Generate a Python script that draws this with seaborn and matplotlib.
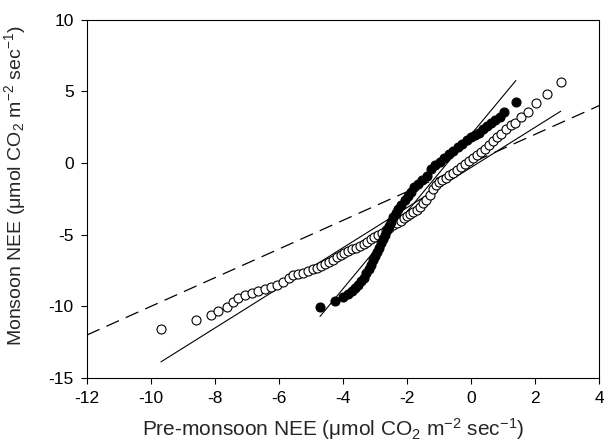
import numpy as np
import pandas as pd
import matplotlib
matplotlib.use("Agg")
import matplotlib.pyplot as plt
import seaborn as sns

# ---- data ----
open_x = [-9.69, -8.60, -8.12, -7.90, -7.62, -7.43, -7.27, -7.06, -6.85, -6.65,
          -6.44, -6.26, -6.07, -5.87, -5.70, -5.55, -5.40, -5.25, -5.10, -4.95,
          -4.82, -4.70, -4.58, -4.45, -4.32, -4.20, -4.08, -3.96, -3.85, -3.72,
          -3.60, -3.48, -3.36, -3.25, -3.14, -3.02, -2.90, -2.78, -2.66, -2.55,
          -2.43, -2.32, -2.20, -2.10, -2.00, -1.90, -1.80, -1.70, -1.60, -1.50,
          -1.40, -1.30, -1.20, -1.10, -1.00, -0.90, -0.80, -0.68, -0.56, -0.44,
          -0.32, -0.20, -0.08, 0.05, 0.18, 0.30, 0.42, 0.55, 0.68, 0.80,
          0.92, 1.10, 1.25, 1.38, 1.55, 1.78, 2.04, 2.37, 2.80]
open_y = [-11.58, -10.98, -10.62, -10.32, -10.03, -9.70, -9.45, -9.22, -9.06, -8.92,
          -8.76, -8.64, -8.50, -8.30, -8.02, -7.85, -7.78, -7.65, -7.52, -7.40,
          -7.30, -7.18, -7.05, -6.92, -6.75, -6.58, -6.42, -6.28, -6.15, -6.02,
          -5.90, -5.78, -5.62, -5.48, -5.33, -5.18, -5.02, -4.86, -4.70, -4.52,
          -4.36, -4.20, -4.02, -3.86, -3.72, -3.56, -3.40, -3.25, -3.05, -2.82,
          -2.55, -2.25, -1.85, -1.52, -1.35, -1.20, -1.05, -0.86, -0.68, -0.48,
          -0.28, -0.08, 0.12, 0.32, 0.55, 0.78, 0.98, 1.25, 1.52, 1.78,
          2.05, 2.40, 2.65, 2.78, 3.22, 3.57, 4.16, 4.78, 5.66]

filled_x = [-4.72, -4.25, -3.99, -3.85, -3.72, -3.62, -3.52, -3.43, -3.35, -3.27,
            -3.20, -3.13, -3.06, -2.99, -2.93, -2.87, -2.81, -2.75, -2.69, -2.63,
            -2.57, -2.50, -2.43, -2.35, -2.27, -2.18, -2.08, -1.98, -1.88, -1.78,
            -1.66, -1.52, -1.38, -1.25, -1.12, -0.98, -0.84, -0.70, -0.56, -0.42,
            -0.28, -0.14, 0.00, 0.12, 0.25, 0.38, 0.50, 0.62, 0.75, 0.90,
            1.03, 1.40]
filled_y = [-10.07, -9.63, -9.35, -9.15, -8.95, -8.72, -8.50, -8.25, -8.00, -7.70,
            -7.40, -7.10, -6.80, -6.50, -6.20, -5.90, -5.60, -5.30, -5.00, -4.70,
            -4.40, -4.10, -3.80, -3.50, -3.20, -2.90, -2.60, -2.30, -2.00, -1.70,
            -1.45, -1.20, -0.90, -0.40, -0.15, 0.10, 0.35, 0.60, 0.82, 1.08,
            1.32, 1.58, 1.78, 1.95, 2.12, 2.35, 2.58, 2.80, 3.00, 3.22,
            3.57, 4.27]

# fitted lines (slope, intercept)
open_fit = (1.40, -0.31)
filled_fit = (2.69, 1.99)

x_ticks = [-12, -10, -8, -6, -4, -2, 0, 2, 4]
y_ticks = [-15, -10, -5, 0, 5, 10]

# ---- style ----
sns.set_theme(style="ticks")
plt.rcParams["font.family"] = ["Liberation Sans", "DejaVu Sans"]
plt.rcParams["mathtext.fontset"] = "custom"
plt.rcParams["mathtext.rm"] = "Liberation Sans"
plt.rcParams["mathtext.it"] = "Liberation Sans:italic"
plt.rcParams["mathtext.default"] = "regular"

fig = plt.figure(figsize=(6.04, 4.46), dpi=100)
ax = fig.add_axes([0.144, 0.1525, 0.848, 0.8035])

# 1:1 dashed line
ax.axline((0, 0), slope=1, color="black", lw=0.9, ls=(0, (11, 6)), zorder=1)

# regression lines
for xs, (m, b) in ((open_x, open_fit), (filled_x, filled_fit)):
    lx = np.array([min(xs), max(xs)])
    sns.lineplot(x=lx, y=m * lx + b, color="black", lw=0.8, ax=ax, zorder=2)

df_open = pd.DataFrame({"x": open_x, "y": open_y})
df_filled = pd.DataFrame({"x": filled_x, "y": filled_y})
sns.scatterplot(data=df_open, x="x", y="y", ax=ax, s=42, facecolor="white",
                edgecolor="black", linewidth=0.8, zorder=3)
sns.scatterplot(data=df_filled, x="x", y="y", ax=ax, s=42, color="black",
                edgecolor="black", linewidth=0.8, zorder=4)

ax.set_xlim(-12, 4)
ax.set_ylim(-15, 10)
ax.set_xticks(x_ticks)
ax.set_yticks(y_ticks)
ax.set_xticklabels([str(t) for t in x_ticks])
ax.set_yticklabels([str(t) for t in y_ticks])
ax.tick_params(direction="out", length=4.5, width=0.8, labelsize=12.5,
               colors="black", top=False, right=False, pad=5)
for s in ax.spines.values():
    s.set_linewidth(0.8)
    s.set_color("black")

ax.set_xlabel("Pre-monsoon NEE (\u03bcmol CO$_2$ m$^{-2}$ sec$^{-1}$)",
              fontsize=15, labelpad=10)
ax.set_ylabel("Monsoon NEE (\u03bcmol CO$_2$ m$^{-2}$ sec$^{-1}$)",
              fontsize=14, labelpad=6)
ax.xaxis.set_label_coords(0.48, -0.105)
ax.yaxis.set_label_coords(-0.115, 0.535)

fig.savefig("out.png", dpi=100)
